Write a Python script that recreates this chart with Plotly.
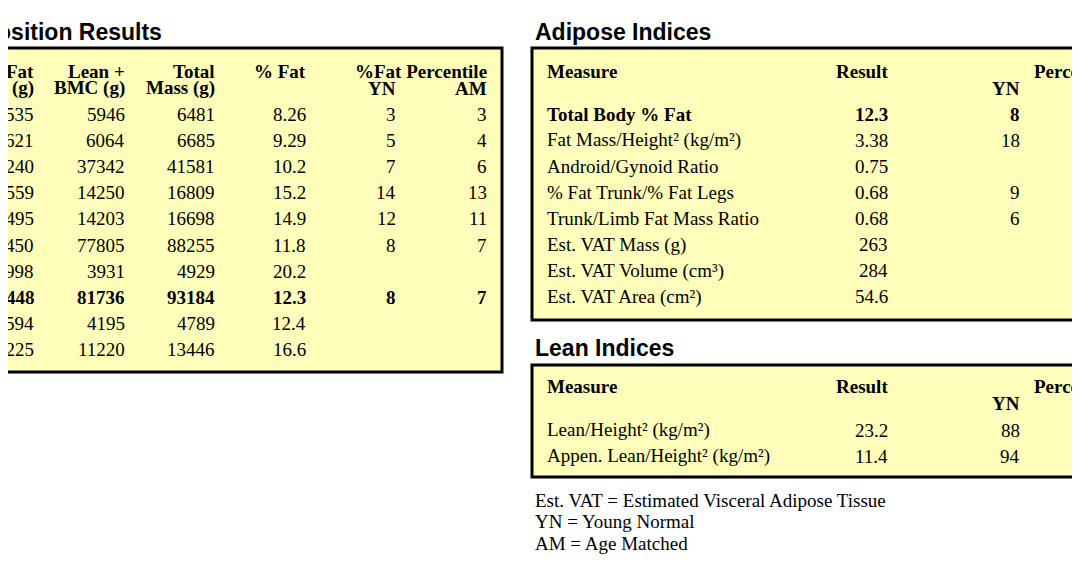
import plotly.graph_objects as go

# Body composition table (left, partly cropped)
fat_mass = ["535", "621", "4240", "2559", "2495", "10450", "998", "11448", "594", "2225"]
lean_bmc = ["5946", "6064", "37342", "14250", "14203", "77805", "3931", "81736", "4195", "11220"]
total_mass = ["6481", "6685", "41581", "16809", "16698", "88255", "4929", "93184", "4789", "13446"]
pct_fat = ["8.26", "9.29", "10.2", "15.2", "14.9", "11.8", "20.2", "12.3", "12.4", "16.6"]
yn_pct = ["3", "5", "7", "14", "12", "8", "", "8", "", ""]
am_pct = ["3", "4", "6", "13", "11", "7", "", "7", "", ""]
bold_row = 7

# Adipose indices
adipose_measures = ["Total Body % Fat", "Fat Mass/Height² (kg/m²)", "Android/Gynoid Ratio",
                    "% Fat Trunk/% Fat Legs", "Trunk/Limb Fat Mass Ratio", "Est. VAT Mass (g)",
                    "Est. VAT Volume (cm³)", "Est. VAT Area (cm²)"]
adipose_results = ["12.3", "3.38", "0.75", "0.68", "0.68", "263", "284", "54.6"]
adipose_yn = ["8", "18", "", "9", "6", "", "", ""]

# Lean indices
lean_measures = ["Lean/Height² (kg/m²)", "Appen. Lean/Height² (kg/m²)"]
lean_results = ["23.2", "11.4"]
lean_yn = ["88", "94"]

scan_info = [("09 April 2022        ID:", 387), ("a Whole Body", 406),
             ("09 April 2022 11:02 Version 13.5.3", 429), ("Auto Whole Body Fan Beam", 450),
             ("Discovery A (S/N 84234)", 497)]
footnotes = ["Est. VAT = Estimated Visceral Adipose Tissue", "YN = Young Normal", "AM = Age Matched"]

SERIF = "Liberation Serif"
SANS = "Liberation Sans"
FILL = "#FFFFBB"

fig = go.Figure()
ann = []


def txt(x, y, s, anchor="right", bold=False, size=19, family=SERIF):
    ann.append(dict(x=x, y=y, text=f"<b>{s}</b>" if bold else s, showarrow=False,
                    xanchor=anchor, yanchor="middle",
                    font=dict(family=family, size=size, color="black")))


shapes = [
    dict(type="rect", x0=-5, x1=502, y0=48, y1=372, fillcolor=FILL, line=dict(color="black", width=3), layer="below"),
    dict(type="rect", x0=532, x1=1100, y0=48, y1=320, fillcolor=FILL, line=dict(color="black", width=3), layer="below"),
    dict(type="rect", x0=532, x1=1100, y0=365, y1=477, fillcolor=FILL, line=dict(color="black", width=3), layer="below"),
]

# Left table
txt(164, 32, "Body Composition Results", bold=True, size=23, family=SANS)
cols = [36, 127, 217, 308]
heads1 = ["Fat", "Lean +", "Total", "% Fat"]
heads2 = ["Mass (g)", "BMC (g)", "Mass (g)", ""]
for cx, h1, h2 in zip(cols, heads1, heads2):
    txt(cx, 71, h1, bold=True)
    txt(cx, 88, h2, bold=True)
txt(489, 71, "%Fat Percentile", bold=True)
txt(398, 88, "YN", bold=True)
txt(489, 88, "AM", bold=True)
for i in range(len(fat_mass)):
    y = 114 + i * 26.2
    b = i == bold_row
    for cx, v in zip(cols + [398, 489], [fat_mass[i], lean_bmc[i], total_mass[i], pct_fat[i], yn_pct[i], am_pct[i]]):
        if v:
            txt(cx, y, v, bold=b)

for s, y in scan_info:
    txt(0, y, s, anchor="left")

# Adipose
txt(533, 32, "Adipose Indices", anchor="left", bold=True, size=23, family=SANS)
txt(545, 71, "Measure", anchor="left", bold=True)
txt(890, 71, "Result", bold=True)
txt(1022, 88, "YN", bold=True)
txt(1032, 71, "Percentile", anchor="left", bold=True)
for i, (m, r, yn) in enumerate(zip(adipose_measures, adipose_results, adipose_yn)):
    y = 114 + i * 26.1
    b = i == 0
    txt(545, y, m, anchor="left", bold=b)
    txt(890, y, r, bold=b)
    if yn:
        txt(1022, y, yn, bold=b)

# Lean
txt(533, 348, "Lean Indices", anchor="left", bold=True, size=23, family=SANS)
txt(545, 386, "Measure", anchor="left", bold=True)
txt(890, 386, "Result", bold=True)
txt(1022, 403, "YN", bold=True)
txt(1032, 386, "Percentile", anchor="left", bold=True)
for i, (m, r, yn) in enumerate(zip(lean_measures, lean_results, lean_yn)):
    y = 430 + i * 26
    txt(545, y, m, anchor="left")
    txt(890, y, r)
    txt(1022, y, yn)

for i, f in enumerate(footnotes):
    txt(533, 500 + i * 21.5, f, anchor="left")

# page adds an 8px body margin, so the visible window starts at 8
fig.update_layout(
    width=1080, height=569, margin=dict(l=0, r=0, t=0, b=0),
    paper_bgcolor="white", plot_bgcolor="white",
    xaxis=dict(range=[8, 1088], visible=False, fixedrange=True),
    yaxis=dict(range=[577, 8], visible=False, fixedrange=True),
    shapes=shapes, annotations=ann, showlegend=False,
)
fig.write_html("out.html", config={"displayModeBar": False})
